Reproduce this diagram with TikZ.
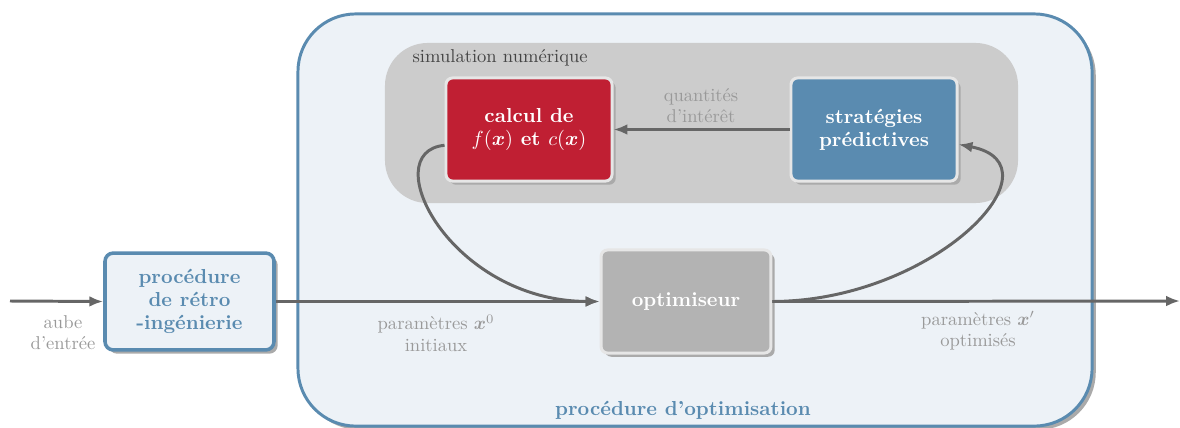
\documentclass[tikz,border=0pt]{standalone}
\usepackage{bm}
\usetikzlibrary{shadows,arrows.meta}
\definecolor{cblue}{HTML}{5A8BB0}
\definecolor{cred}{HTML}{C01F33}
\definecolor{cbg}{HTML}{EDF2F7}
\definecolor{cline}{HTML}{666666}
\definecolor{clabel}{HTML}{999999}
\definecolor{cgrey}{HTML}{CCCCCC}
\definecolor{copt}{HTML}{B3B3B3}
\definecolor{cborder}{HTML}{E6E6E6}
\definecolor{cshadow}{HTML}{AAAAAA}
\definecolor{csim}{HTML}{444444}
\tikzset{
  boldtxt/.style={font=\fontsize{10.9}{12.4}\selectfont\bfseries, align=center},
  lbl/.style={font=\fontsize{10}{11.4}\selectfont, text=clabel, align=center},
  shad/.style={general shadow={shadow xshift=2pt, shadow yshift=-2pt, fill=cshadow}},
  innerbox/.style={draw=cborder, line width=1.6pt, rounded corners=3.5pt, shad, boldtxt, text=white,
    minimum width=89.4pt, minimum height=55.5pt, inner sep=0pt},
  conn/.style={draw=cline, line width=1.6pt},
  tip/.style={-{Latex[length=7.5pt,width=5.8pt]}},
}
\begin{document}
\begin{tikzpicture}[x=0.5385pt,y=-0.5385pt]
\useasboundingbox (0,0) rectangle (1180,427);
% big optimisation box
\node[draw=cblue, fill=cbg, line width=1.6pt, rounded corners=31pt, shad,
  minimum width=427.6pt, minimum height=221.9pt, inner sep=0pt] (optproc) at (695,220) {};
\node[boldtxt, text=cblue] (optlabel) at (683,410) {procédure d'optimisation};
% simulation box
\node[fill=cgrey, rounded corners=23pt, minimum width=340.9pt, minimum height=86.2pt, inner sep=0pt] (sim) at (701.5,123) {};
\node[font=\fontsize{10}{12}\selectfont, text=csim, anchor=west] (simlabel) at (406,58) {simulation numérique};
% inner boxes
\node[innerbox, fill=cred] (calc) at (529,129.5) {calcul de\\$f(\bm{x})$ et $c(\bm{x})$};
\node[innerbox, fill=cblue] (strat) at (874,129.5) {stratégies\\prédictives};
\node[innerbox, fill=copt, minimum width=91.5pt] (opt) at (686,301.5) {optimiseur};
\node[draw=cblue, fill=cbg, line width=1.9pt, rounded corners=4.5pt, shad, boldtxt, text=cblue,
  minimum width=91pt, minimum height=52.2pt, inner sep=0pt] (retro) at (189.5,301.5) {procédure\\de rétro\\-ingénierie};
% coordinates
\coordinate (in) at (10,301);
\coordinate (out) at (1180,301);
% connectors
\draw[conn, tip] (in) -- (retro.west);
\draw[conn, tip] (retro.east) -- (opt.west);
\draw[conn, tip] (opt.east) -- (out);
\draw[conn, tip] (strat.west) -- (calc.east);
\draw[conn, tip] ([yshift=-8.5pt]calc.west) .. controls (375,152) and (450,301) .. (opt.west);
\draw[conn, tip] (opt.east) .. controls (935,301) and (1065,165) .. ([yshift=-8pt]strat.east);
% labels
\node[lbl] (laube) at (63,333) {aube\\d'entrée};
\node[lbl] (lx0) at (436,333) {paramètres $\bm{x}^0$\\initiaux};
\node[lbl] (lxp) at (978,331) {paramètres $\bm{x}'$\\optimisés};
\node[lbl] (lq) at (701,106) {quantités\\d'intérêt};
\end{tikzpicture}
\end{document}
